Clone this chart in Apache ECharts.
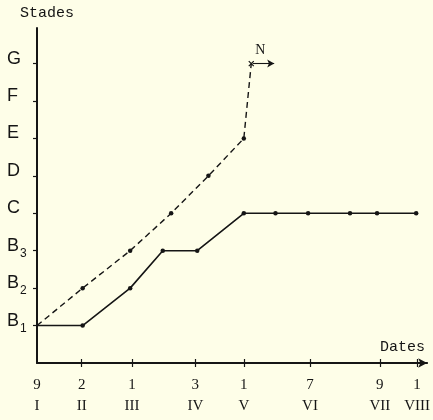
<!DOCTYPE html>
<html><head><meta charset="utf-8">
<script src="https://cdn.jsdelivr.net/npm/echarts@6/dist/echarts.min.js"></script>
<style>html,body{margin:0;padding:0;background:#fefee8;}#c{width:433px;height:420px;}</style>
</head><body><div id="c"></div>
<script>
// Stage levels (y): B1=1, B2=2, B3=3, C=4, D=5, E=6, F=7, G=8
const stageValues = [1, 2, 3, 4, 5, 6, 7, 8];
const stageNames  = ['B1', 'B2', 'B3', 'C', 'D', 'E', 'F', 'G'];
// Date ticks (x, approx. day of year as drawn)
const dateTicks = [9, 33, 60, 94, 120, 155.5, 193, 213];
const dayLabels = ['9', '2', '1', '3', '1', '7', '9', '1'];
const monthLabels = ['I', 'II', 'III', 'IV', 'V', 'VI', 'VII', 'VIII'];
// Solid curve
const solidX = [9, 33.5, 59, 76.5, 95, 120, 137, 154.5, 177, 191.5, 212.5];
const solidY = [1, 1, 2, 3, 3, 4, 4, 4, 4, 4, 4];
// Dashed curve
const dashX = [9, 33.5, 59, 81, 101, 120, 124];
const dashY = [1, 2, 3, 4, 5, 6, 8];
const arrowEndX = 136.3;

const ink = '#151515';
const xMin = 9, xMax = 218.4, yMin = 0, yMax = 8.95;

const solidData = solidX.map((x, i) => i === 0 ? {value: [x, solidY[i]], symbol: 'none'} : [x, solidY[i]]);
const dashData = dashX.map((x, i) => {
  if (i === 0) return {value: [x, dashY[i]], symbol: 'none'};
  if (i === dashX.length - 1) return {
    value: [x, dashY[i]],
    symbol: 'path://M0,0L10,10M10,0L0,10', symbolSize: 5,
    itemStyle: {color: 'rgba(0,0,0,0)', borderColor: ink, borderWidth: 1.2},
    label: {show: true, formatter: 'N', position: 'top', offset: [9, 2],
      fontFamily: 'Liberation Serif', fontSize: 14, color: ink}
  };
  return [x, dashY[i]];
});

const chart = echarts.init(document.getElementById('c'));
chart.setOption({
  backgroundColor: '#fefee8',
  animation: false,
  grid: {left: 37, right: 3, top: 28, bottom: 57},
  xAxis: [{
    type: 'value', min: xMin, max: xMax,
    axisLine: {show: true, lineStyle: {color: ink, width: 2}, symbol: ['none', 'arrow'], symbolSize: [7, 9]},
    axisTick: {show: true, length: 4, lineStyle: {color: ink, width: 1.2}, customValues: dateTicks.slice(1)},
    axisLabel: {
      show: true, margin: 12, lineHeight: 21, color: ink,
      fontFamily: 'Liberation Serif', fontSize: 15,
      customValues: dateTicks,
      formatter: v => { const i = dateTicks.indexOf(v); return i < 0 ? '' : dayLabels[i] + '\n' + monthLabels[i]; }
    },
    splitLine: {show: false}
  }, {
    type: 'value', min: xMin, max: xMax, position: 'bottom',
    axisLine: {show: false},
    axisTick: {show: true, inside: true, length: 4, lineStyle: {color: ink, width: 1.2}, customValues: dateTicks.slice(1)},
    axisLabel: {show: false},
    splitLine: {show: false}
  }],
  yAxis: {
    type: 'value', min: yMin, max: yMax,
    axisLine: {show: true, lineStyle: {color: ink, width: 2}},
    axisTick: {show: true, length: 4, lineStyle: {color: ink, width: 1.2}, customValues: stageValues},
    axisLabel: {
      show: true, margin: 30, align: 'left', customValues: stageValues,
      formatter: v => {
        const i = stageValues.indexOf(v);
        if (i < 0) return '';
        const n = stageNames[i];
        return n.length > 1 ? '{a|' + n[0] + '}{s|' + n.slice(1) + '}' : '{a|' + n + '}';
      },
      rich: {
        a: {fontFamily: 'Liberation Sans', fontSize: 18, color: ink, padding: [0, 0, 10, 0]},
        s: {fontFamily: 'Liberation Sans', fontSize: 12, color: ink, padding: [6, 0, 0, 1]}
      }
    },
    splitLine: {show: false}
  },
  graphic: [
    {type: 'text', left: 20, top: 6, style: {text: 'Stades', font: '15px "Liberation Mono"', fill: ink}},
    {type: 'text', left: 380, top: 340, style: {text: 'Dates', font: '15px "Liberation Mono"', fill: ink}}
  ],
  series: [{
    type: 'line', data: solidData, symbol: 'circle', symbolSize: 4.5,
    itemStyle: {color: ink}, lineStyle: {color: ink, width: 1.6}, z: 3
  }, {
    type: 'line', data: dashData, symbol: 'circle', symbolSize: 4.5,
    itemStyle: {color: ink}, lineStyle: {color: ink, width: 1.4, type: [6, 4]}, z: 3,
    markLine: {
      silent: true, symbol: ['none', 'arrow'], symbolSize: [6, 7],
      lineStyle: {color: ink, width: 1.1, type: 'solid'}, label: {show: false},
      data: [[{coord: [dashX[dashX.length - 1] + 0.8, dashY[dashY.length - 1]]}, {coord: [arrowEndX, dashY[dashY.length - 1]]}]]
    }
  }]
});
</script></body></html>
